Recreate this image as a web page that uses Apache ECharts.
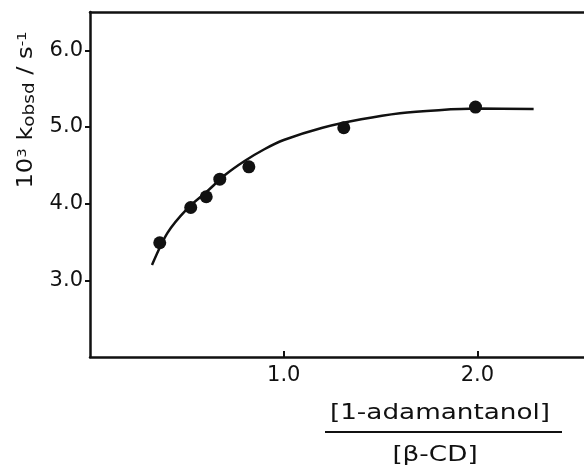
<!DOCTYPE html>
<html>
<head>
<meta charset="utf-8">
<script src="https://cdn.jsdelivr.net/npm/echarts@6/dist/echarts.min.js"></script>
<style>
  html, body { margin: 0; padding: 0; background: #fff; }
  #chart { width: 584px; height: 466px; }
</style>
</head>
<body>
<div id="chart"></div>
<script>
// measured points: [1-adamantanol]/[beta-CD] vs 10^3 k_obsd
var ratio = [0.36, 0.52, 0.60, 0.67, 0.82, 1.31, 1.99];
var kobsd = [3.49, 3.95, 4.09, 4.32, 4.48, 4.99, 5.26];

// fitted curve
var curveX = [0.32, 0.40, 0.50, 0.60, 0.70, 0.80, 0.90, 1.00, 1.20, 1.40, 1.60, 1.80, 2.00, 2.29];
var curveY = [3.20, 3.62, 3.93, 4.15, 4.38, 4.56, 4.71, 4.83, 4.99, 5.10, 5.18, 5.22, 5.24, 5.235];

var xTicks = ['1.0', '2.0'];
var yTicks = ['3.0', '4.0', '5.0', '6.0'];

var font = 'DejaVu Sans';
var ink = '#111';

var curveData = curveX.map(function (x, i) { return [x, curveY[i]]; });
var pointData = ratio.map(function (x, i) { return [x, kobsd[i]]; });

var option = {
  animation: false,
  backgroundColor: '#fff',
  grid: { left: 90, top: 12, right: 0, bottom: 109 },
  xAxis: [
    {
      type: 'value',
      min: 0, max: 2.55, interval: 1,
      axisLine: { lineStyle: { color: ink, width: 2.5 } },
      axisTick: { inside: true, length: 6, lineStyle: { color: ink, width: 2 } },
      splitLine: { show: false },
      axisLabel: {
        color: ink, fontFamily: font, fontSize: 21, margin: 8,
        showMinLabel: false, showMaxLabel: false,
        formatter: function (v) { return xTicks.indexOf(v.toFixed(1)) >= 0 ? v.toFixed(1) : ''; }
      }
    },
    {
      type: 'value', position: 'top',
      min: 0, max: 2.55,
      axisLine: { show: true, lineStyle: { color: ink, width: 2.5 } },
      axisTick: { show: false }, axisLabel: { show: false }, splitLine: { show: false }
    }
  ],
  yAxis: {
    type: 'value',
    min: 2, max: 6.5, interval: 1,
    axisLine: { show: true, lineStyle: { color: ink, width: 2.5 } },
    axisTick: { show: true, length: 5, lineStyle: { color: ink, width: 2 } },
    splitLine: { show: false },
    axisLabel: {
      color: ink, fontFamily: font, fontSize: 21, margin: 7,
      showMinLabel: false, showMaxLabel: false,
      formatter: function (v) { return yTicks.indexOf(v.toFixed(1)) >= 0 ? v.toFixed(1) : ''; }
    }
  },
  series: [
    {
      type: 'line',
      data: curveData,
      smooth: 0.3,
      showSymbol: false,
      lineStyle: { color: ink, width: 2.5 },
      z: 2
    },
    {
      type: 'scatter',
      data: pointData,
      symbolSize: 13,
      itemStyle: { color: ink, opacity: 1 },
      z: 3
    }
  ],
  graphic: [
    {
      type: 'text',
      x: 27, y: 110,
      rotation: Math.PI / 2,
      scaleX: 1.15,
      style: {
        text: '10{sup|3} k{sub|obsd} / s{sup|-1}',
        fill: ink,
        font: '21px "DejaVu Sans"',
        align: 'center',
        verticalAlign: 'middle',
        rich: {
          sup: { fontSize: 13, fontFamily: font, verticalAlign: 'top', lineHeight: 12, fill: ink },
          sub: { fontSize: 16, fontFamily: font, verticalAlign: 'bottom', lineHeight: 14, fill: ink }
        }
      }
    },
    {
      type: 'text',
      x: 440, y: 414,
      scaleX: 1.25,
      style: {
        text: '[1-adamantanol]',
        fill: ink,
        font: '21px "DejaVu Sans"',
        align: 'center',
        verticalAlign: 'middle'
      }
    },
    {
      type: 'line',
      shape: { x1: 325, y1: 432, x2: 562, y2: 432 },
      style: { stroke: ink, lineWidth: 2 }
    },
    {
      type: 'text',
      x: 435, y: 456,
      scaleX: 1.25,
      style: {
        text: '[\u03B2-CD]',
        fill: ink,
        font: '21px "DejaVu Sans"',
        align: 'center',
        verticalAlign: 'middle'
      }
    }
  ]
};

var chart = echarts.init(document.getElementById('chart'));
chart.setOption(option);
</script>
</body>
</html>
